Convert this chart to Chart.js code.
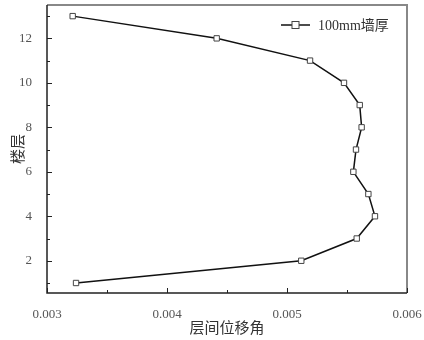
<!DOCTYPE html>
<html>
<head>
<meta charset="utf-8">
<script src="https://cdn.jsdelivr.net/npm/chart.js@4/dist/chart.umd.min.js"></script>
<style>
  html, body { margin: 0; padding: 0; background: #fff; }
  #wrap { width: 424px; height: 340px; position: relative; }
</style>
</head>
<body>
<div id="wrap"><canvas id="driftChart"></canvas></div>
<script>
// ===== DATA =====
const floors = [1, 2, 3, 4, 5, 6, 7, 8, 9, 10, 11, 12, 13];
const drift100 = [0.003242, 0.005119, 0.005581, 0.005733, 0.005678, 0.005553, 0.005575,
                  0.005622, 0.005606, 0.005475, 0.005192, 0.004414, 0.003214];
const xTicks = [0.003, 0.004, 0.005, 0.006];
const yTicks = [2, 4, 6, 8, 10, 12];
const seriesName = '100mm墙厚';
const xTitle = '层间位移角';
const yTitle = '楼层';

const serif = "'Liberation Serif', 'DejaVu Serif', serif";
const cjk = "'Noto Sans CJK SC', sans-serif";

// inward major/minor ticks, framed plot box and legend
const framePlugin = {
  id: 'frame',
  afterDraw(chart) {
    const { ctx, chartArea: a, scales: { x, y } } = chart;
    ctx.save();
    // top/right frame in grey
    ctx.strokeStyle = '#888';
    ctx.lineWidth = 2;
    ctx.beginPath();
    ctx.moveTo(a.left, a.top);
    ctx.lineTo(a.right, a.top);
    ctx.lineTo(a.right, a.bottom);
    ctx.stroke();
    // left/bottom axes
    ctx.strokeStyle = '#222';
    ctx.lineWidth = 1.5;
    ctx.beginPath();
    ctx.moveTo(a.left, a.top);
    ctx.lineTo(a.left, a.bottom);
    ctx.lineTo(a.right, a.bottom);
    ctx.stroke();

    ctx.lineWidth = 1;
    ctx.beginPath();
    for (let v = 0.003; v <= 0.0060001; v += 0.0005) {
      const px = Math.round(x.getPixelForValue(v)) + 0.5;
      const major = Math.abs(v * 1000 - Math.round(v * 1000)) < 1e-6;
      ctx.moveTo(px, a.bottom);
      ctx.lineTo(px, a.bottom - (major ? 5 : 3));
    }
    for (let v = 1; v <= 13; v++) {
      const py = Math.round(y.getPixelForValue(v)) + 0.5;
      ctx.moveTo(a.left, py);
      ctx.lineTo(a.left + (v % 2 === 0 ? 5 : 3), py);
    }
    ctx.stroke();

    // legend
    const lx = 281, ly = 25;
    ctx.strokeStyle = '#111';
    ctx.lineWidth = 1.5;
    ctx.beginPath();
    ctx.moveTo(lx, ly);
    ctx.lineTo(lx + 29, ly);
    ctx.stroke();
    ctx.fillStyle = '#fff';
    ctx.strokeStyle = '#444';
    ctx.lineWidth = 1;
    ctx.fillRect(lx + 11, ly - 3.5, 7, 7);
    ctx.strokeRect(lx + 11, ly - 3.5, 7, 7);
    ctx.fillStyle = '#333';
    ctx.textBaseline = 'middle';
    ctx.font = '14px ' + serif;
    ctx.fillText('100mm', lx + 37, ly + 1);
    const w = ctx.measureText('100mm').width;
    ctx.font = '14px ' + cjk;
    ctx.fillText('墙厚', lx + 37 + w, ly);
    ctx.restore();
  }
};

new Chart(document.getElementById('driftChart'), {
  type: 'scatter',
  data: {
    datasets: [{
      label: seriesName,
      data: floors.map((f, i) => ({ x: drift100[i], y: f })),
      showLine: true,
      borderColor: '#111',
      borderWidth: 1.5,
      pointStyle: 'rect',
      pointRadius: 3.8,
      pointBackgroundColor: '#fff',
      pointBorderColor: '#444',
      pointBorderWidth: 1
    }]
  },
  options: {
    responsive: true,
    maintainAspectRatio: false,
    animation: false,
    layout: { padding: { top: 4, right: 17, left: 0, bottom: 0 } },
    plugins: { legend: { display: false }, tooltip: { enabled: false } },
    scales: {
      x: {
        type: 'linear',
        min: 0.003,
        max: 0.006,
        afterBuildTicks: s => { s.ticks = xTicks.map(v => ({ value: v })); },
        afterFit: s => { s.height = 47; s.paddingLeft = 0; s.paddingRight = 0; },
        grid: { display: false },
        border: { display: false },
        ticks: {
          color: '#555',
          font: { family: serif, size: 13 },
          padding: 6,
          maxRotation: 0,
          callback: v => v.toFixed(3)
        },
        title: {
          display: true,
          text: xTitle,
          color: '#333',
          font: { family: cjk, size: 15 },
          padding: { top: 0 }
        }
      },
      y: {
        type: 'linear',
        min: 0.55,
        max: 13.5,
        afterBuildTicks: s => { s.ticks = yTicks.map(v => ({ value: v })); },
        afterFit: s => { s.width = 47; s.paddingTop = 0; s.paddingBottom = 0; },
        grid: { display: false },
        border: { display: false },
        ticks: {
          color: '#555',
          font: { family: serif, size: 13 },
          padding: 7
        },
        title: {
          display: true,
          text: yTitle,
          color: '#333',
          font: { family: cjk, size: 15 },
          padding: { top: 8, bottom: 2 }
        }
      }
    }
  },
  plugins: [framePlugin]
});
</script>
</body>
</html>
